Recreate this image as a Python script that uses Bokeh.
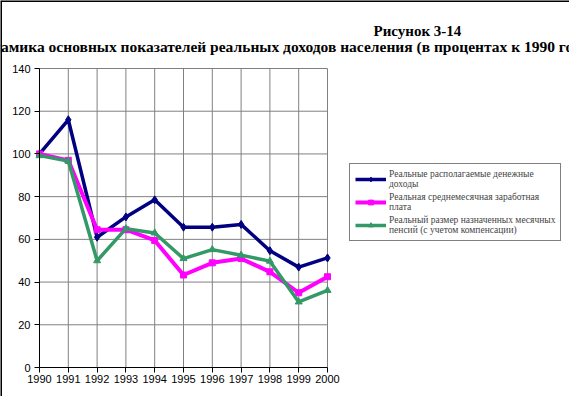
from bokeh.plotting import figure
from bokeh.models import Range1d, Legend, LegendItem, Label, FixedTicker, Span
from bokeh.embed import file_html
from bokeh.resources import INLINE

years = [1990, 1991, 1992, 1993, 1994, 1995, 1996, 1997, 1998, 1999, 2000]
disposable_income = [100, 116, 61, 70.5, 78.5, 65.7, 65.7, 67, 54.7, 47, 51.3]
avg_wage = [100, 97, 64.5, 64.5, 59.5, 43.3, 49, 51, 44.8, 35, 42.5]
pensions = [99.2, 96.7, 50, 65, 63, 51, 55.2, 52.6, 49.8, 30.7, 36.1]
y_ticks = [0, 20, 40, 60, 80, 100, 120, 140]

labels = [
    "Реальные располагаемые денежные\nдоходы",
    "Реальная среднемесячная заработная\nплата",
    "Реальный размер назначенных месячных\nпенсий (с учетом компенсации)",
]
title1 = "Рисунок 3-14"
title2 = "Динамика основных показателей реальных доходов населения (в процентах к 1990 году)"

# layout (pixels in the canvas)
W, H = 569, 396
PL, PR, PT, PB = 39, 327, 68, 367   # plot area edges
xpx = (PR - PL) / (years[-1] - years[0])
ypx = (PB - PT) / (y_ticks[-1] - y_ticks[0])
x_range = Range1d(years[0] - PL / xpx, years[0] + (W - PL) / xpx)
y_range = Range1d(y_ticks[0] - (H - PB) / ypx, y_ticks[0] + PB / ypx)

p = figure(width=W, height=H, output_backend="svg", toolbar_location=None,
           x_range=x_range, y_range=y_range,
           min_border_left=0, min_border_right=0, min_border_top=0, min_border_bottom=0)
p.outline_line_color = None
p.background_fill_color = "white"
p.border_fill_color = "white"
p.xgrid.visible = False
p.ygrid.visible = False

xa, ya = p.xaxis[0], p.yaxis[0]
xa.fixed_location = y_ticks[0]
xa.bounds = (years[0], years[-1])
ya.fixed_location = years[0]
ya.bounds = (y_ticks[0], y_ticks[-1])
for ax in (xa, ya):
    ax.axis_line_color = "black"
    ax.major_tick_line_color = "black"
    ax.major_tick_out = 5
    ax.major_tick_in = 0
    ax.minor_tick_line_color = None
    ax.major_label_text_font = "Liberation Sans"
    ax.major_label_text_font_size = "11px"
    ax.major_label_text_color = "black"
xa.ticker = FixedTicker(ticks=years)
ya.ticker = FixedTicker(ticks=y_ticks)
xa.major_label_standoff = 2
ya.major_label_standoff = 4

# grid lines limited to the plot area
grid_color = "#808080"
p.segment(x0=years[1:], y0=[y_ticks[0]] * (len(years) - 1),
          x1=years[1:], y1=[y_ticks[-1]] * (len(years) - 1),
          line_color=grid_color, line_width=1, level="underlay")
p.segment(x0=[years[0]] * (len(y_ticks) - 1), y0=y_ticks[1:],
          x1=[years[-1]] * (len(y_ticks) - 1), y1=y_ticks[1:],
          line_color=grid_color, line_width=1, level="underlay")

# picture border (left and top edges)
p.add_layout(Span(location=x_range.start, dimension="height", line_color="black", line_width=3))
p.add_layout(Span(location=y_range.end, dimension="width", line_color="black", line_width=3))

series = [
    (disposable_income, "#000080", 3.5, "diamond", 8),
    (avg_wage, "#FF00FF", 4, "square", 6),
    (pensions, "#339966", 3.5, "triangle", 7),
]
items = []
for (vals, color, lw, marker, ms), lab in zip(series, labels):
    r1 = p.line(years, vals, line_color=color, line_width=lw)
    r2 = p.scatter(years, vals, marker=marker, size=ms, fill_color=color, line_color=color)
    items.append(LegendItem(label=lab, renderers=[r1, r2]))

legend = Legend(items=items, location=(349, H - 241), margin=0, padding=5, spacing=3,
                glyph_width=31, glyph_height=12, label_standoff=3,
                label_text_font="Liberation Serif", label_text_font_size="9.5px",
                label_text_line_height=1.25,
                border_line_color="black", border_line_width=1,
                background_fill_alpha=1, background_fill_color="white")
p.add_layout(legend, "center")

p.add_layout(Label(x=373, y=H - 30, x_units="screen", y_units="screen", text=title1,
                   text_font="Liberation Serif", text_font_style="bold",
                   text_font_size="15px", text_baseline="alphabetic", text_color="black"))
p.add_layout(Label(x=-28, y=H - 45.5, x_units="screen", y_units="screen", text=title2,
                   text_font="Liberation Serif", text_font_style="bold",
                   text_font_size="15.5px", text_baseline="alphabetic", text_color="black"))

open("out.html", "w").write(file_html(p, INLINE))
